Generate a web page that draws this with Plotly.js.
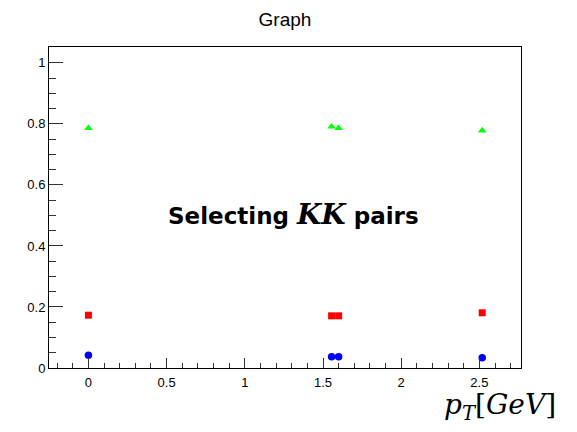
<!DOCTYPE html>
<html>
<head>
<meta charset="utf-8">
<script src="https://cdn.plot.ly/plotly-3.0.1.min.js"></script>
<style>html,body{margin:0;padding:0;background:#fff;}#chart{width:577px;height:432px;}</style>
</head>
<body>
<div id="chart"></div>
<script>
var pt = [0, 1.555, 1.600, 2.518];
var blueVals = [0.042, 0.037, 0.037, 0.034];
var redVals = [0.173, 0.171, 0.171, 0.181];
var greenVals = [0.786, 0.791, 0.786, 0.778];
var titleText = 'Graph';
var labelText = 'Selecting <span style="font-family:\'DejaVu Serif\', serif;font-style:italic;font-size:28px;">KK</span> pairs';
var xTitleText = '<i>p</i><sub><i>T</i></sub>[<i>GeV</i>]';

var traces = [
  {x: pt, y: blueVals, mode: 'markers', type: 'scatter',
   marker: {symbol: 'circle', size: 7.5, color: '#0000ff'}},
  {x: pt, y: redVals, mode: 'markers', type: 'scatter',
   marker: {symbol: 'square', size: 7, color: '#ff0000'}},
  {x: pt, y: greenVals, mode: 'markers', type: 'scatter',
   marker: {symbol: 'triangle-up', size: 7.5, color: '#00ff00'}}
];

var layout = {
  width: 577, height: 432,
  margin: {l: 49, r: 56, t: 47, b: 64},
  paper_bgcolor: '#ffffff', plot_bgcolor: '#ffffff',
  showlegend: false,
  font: {family: 'Liberation Sans, Arial, sans-serif', color: '#000'},
  title: {text: titleText, xref: 'paper', x: 0.5, xanchor: 'center',
          yref: 'container', y: 0.956, yanchor: 'middle',
          font: {size: 19, family: 'Liberation Sans, Arial, sans-serif', color: '#000'}},
  xaxis: {range: [-0.252, 2.766], dtick: 0.5, tick0: 0, ticks: 'inside', ticklen: 10,
          tickcolor: '#333', tickwidth: 1, showgrid: false, zeroline: false,
          showline: true, linecolor: '#000', linewidth: 1, mirror: true,
          tickfont: {size: 13}, ticklabelstandoff: 2,
          minor: {dtick: 0.1, tick0: 0, ticks: 'inside', ticklen: 5, tickcolor: '#333', showgrid: false}},
  yaxis: {range: [0, 1.052], dtick: 0.2, tick0: 0, ticks: 'inside', ticklen: 14,
          tickcolor: '#333', tickwidth: 1, showgrid: false, zeroline: false,
          showline: true, linecolor: '#000', linewidth: 1, mirror: true,
          tickfont: {size: 13},
          minor: {dtick: 0.05, tick0: 0, ticks: 'inside', ticklen: 7, tickcolor: '#333', showgrid: false}},
  annotations: [
    {text: labelText, xref: 'paper', yref: 'paper', x: 0.517, y: 0.477,
     xanchor: 'center', yanchor: 'middle', showarrow: false,
     font: {family: 'DejaVu Sans, sans-serif', size: 23, color: '#000', weight: 'bold'}},
    {text: xTitleText, xref: 'paper', yref: 'paper', x: 0.955, y: -0.121,
     xanchor: 'center', yanchor: 'middle', showarrow: false,
     font: {family: 'DejaVu Serif, serif', size: 28, color: '#000'}}
  ]
};

Plotly.newPlot('chart', traces, layout, {displayModeBar: false, staticPlot: true});
</script>
</body>
</html>
